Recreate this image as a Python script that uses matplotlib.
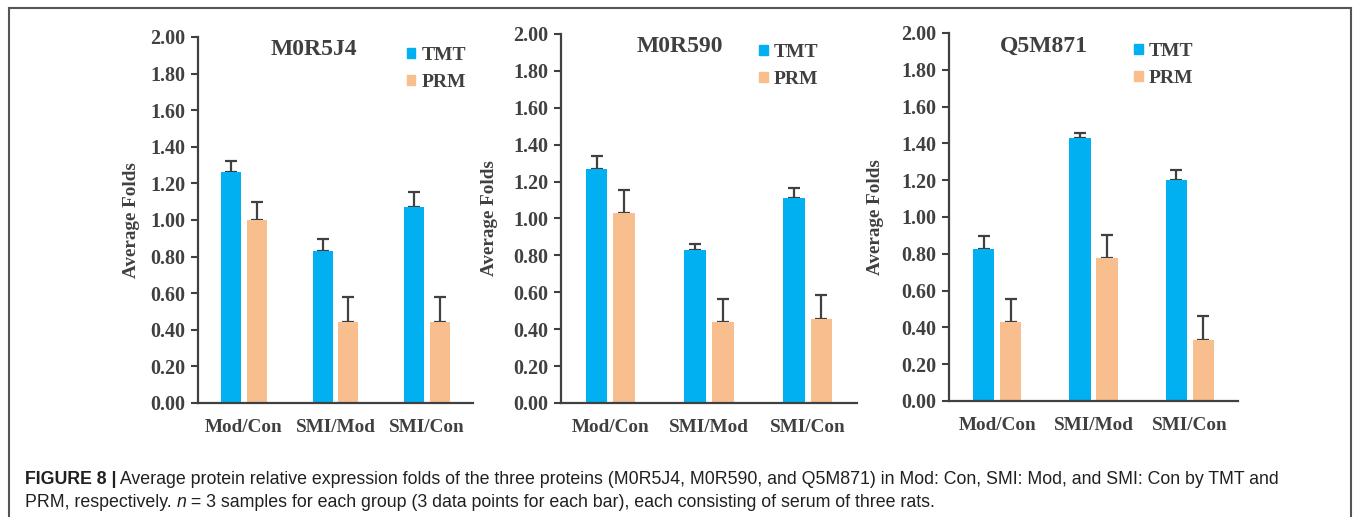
import numpy as np
import matplotlib.pyplot as plt
from matplotlib.patches import Patch
from matplotlib.lines import Line2D

# data
groups = ["Mod/Con", "SMI/Mod", "SMI/Con"]
proteins = ["M0R5J4", "M0R590", "Q5M871"]
tmt_mean = [[1.26, 0.83, 1.07], [1.27, 0.83, 1.11], [0.825, 1.43, 1.20]]
tmt_err = [[0.06, 0.065, 0.085], [0.07, 0.03, 0.055], [0.07, 0.025, 0.055]]
prm_mean = [[1.00, 0.445, 0.445], [1.03, 0.44, 0.455], [0.43, 0.775, 0.33]]
prm_err = [[0.10, 0.135, 0.135], [0.125, 0.125, 0.13], [0.125, 0.125, 0.13]]
yticks = [0.0, 0.2, 0.4, 0.6, 0.8, 1.0, 1.2, 1.4, 1.6, 1.8, 2.0]

TMT_COLOR = "#00B0F0"
PRM_COLOR = "#F8BE8E"
GREY = "#404040"
W, H = 1355, 517

# panel boxes in pixels: left, right, top (y=2.0), bottom (y=0)
boxes = [(198, 473, 37, 403), (561, 857, 34, 403), (949, 1238, 33, 401)]
title_x = [0.42, 0.40, 0.33]
legend_x = [0.695, 0.61, 0.58]
ylabel_x = [-0.211, -0.213, -0.225]

fig = plt.figure(figsize=(W / 100, H / 100), dpi=100)
serif = "Liberation Serif"

for i, (l, r, t, b) in enumerate(boxes):
    ax = fig.add_axes([l / W, 1 - b / H, (r - l) / W, (b - t) / H])
    x = np.arange(len(groups))
    bw = 0.22
    off = 0.14
    ax.bar(x - off, tmt_mean[i], bw, color=TMT_COLOR, zorder=2)
    ax.bar(x + off, prm_mean[i], bw, color=PRM_COLOR, zorder=2)
    # one-sided error bars
    ax.errorbar(x - off, tmt_mean[i], yerr=[np.zeros(3), tmt_err[i]], fmt="none",
                ecolor=GREY, elinewidth=1.6, capsize=4, capthick=1.6, zorder=1)
    ax.errorbar(x + off, prm_mean[i], yerr=[np.zeros(3), prm_err[i]], fmt="none",
                ecolor=GREY, elinewidth=1.6, capsize=4, capthick=1.6, zorder=1)

    ax.set_xlim(-0.5, 2.5)
    ax.set_ylim(0, 2.0)
    ax.set_yticks(yticks)
    ax.set_yticklabels([f"{v:.2f}" for v in yticks], fontfamily=serif,
                       fontweight="bold", fontsize=14.5, color=GREY)
    ax.set_xticks(x)
    ax.set_xticklabels(groups, fontfamily=serif, fontweight="bold",
                       fontsize=13.8, color=GREY)
    ax.tick_params(axis="x", length=0, pad=11.5)
    ax.tick_params(axis="y", length=5, width=1.5, color=GREY, pad=4)
    for s in ["top", "right"]:
        ax.spines[s].set_visible(False)
    for s in ["left", "bottom"]:
        ax.spines[s].set_color(GREY)
        ax.spines[s].set_linewidth(1.6)

    ax.set_ylabel("Average Folds", fontfamily=serif, fontweight="bold",
                  fontsize=13.8, color=GREY)
    ax.yaxis.set_label_coords(ylabel_x[i], 0.5)

    ax.text(title_x[i], 0.965, proteins[i], transform=ax.transAxes,
            ha="center", va="center", fontfamily=serif, fontweight="bold",
            fontsize=17, color=GREY)

    handles = [Patch(color=TMT_COLOR, label="TMT"), Patch(color=PRM_COLOR, label="PRM")]
    leg = ax.legend(handles=handles, loc="upper left", bbox_to_anchor=(legend_x[i], 1.02),
                    frameon=False, handlelength=0.45, handleheight=0.45,
                    handletextpad=0.3, labelspacing=0.5,
                    prop={"family": serif, "weight": "bold", "size": 14})
    for txt in leg.get_texts():
        txt.set_color(GREY)

# frame around figure + caption
fc = "#555555"
fig.add_artist(Line2D([9 / W, 9 / W], [0, 1 - 8 / H], transform=fig.transFigure, color=fc, lw=1.5))
fig.add_artist(Line2D([9 / W, 1351 / W], [1 - 8 / H, 1 - 8 / H], transform=fig.transFigure, color=fc, lw=1.5))
fig.add_artist(Line2D([1351 / W, 1351 / W], [0, 1 - 8 / H], transform=fig.transFigure, color=fc, lw=1.5))

sans = "Liberation Sans"
cap_size = 12.8
cap_color = "#231F20"


def caption_line(pieces, x0, y0):
    prev = None
    for s, style in pieces:
        kw = dict(fontfamily=sans, fontsize=cap_size, color=cap_color, va="bottom", ha="left")
        if style == "b":
            kw["fontweight"] = "bold"
        elif style == "i":
            kw["fontstyle"] = "italic"
        if prev is None:
            prev = fig.text(x0 / W, 1 - y0 / H, s, **kw)
        else:
            prev = fig.add_artist(plt.Annotation(s, xy=(1, 0), xycoords=prev, **kw))


caption_line([("FIGURE 8 |", "b"),
              (" Average protein relative expression folds of the three proteins (M0R5J4, M0R590, and Q5M871) "
               "in Mod: Con, SMI: Mod, and SMI: Con by TMT and", "n")], 25, 488)
caption_line([("PRM, respectively. ", "n"), ("n", "i"),
              (" = 3 samples for each group (3 data points for each bar), each consisting of serum of three rats.", "n")],
             25, 511)

fig.savefig("out.png", dpi=100)
